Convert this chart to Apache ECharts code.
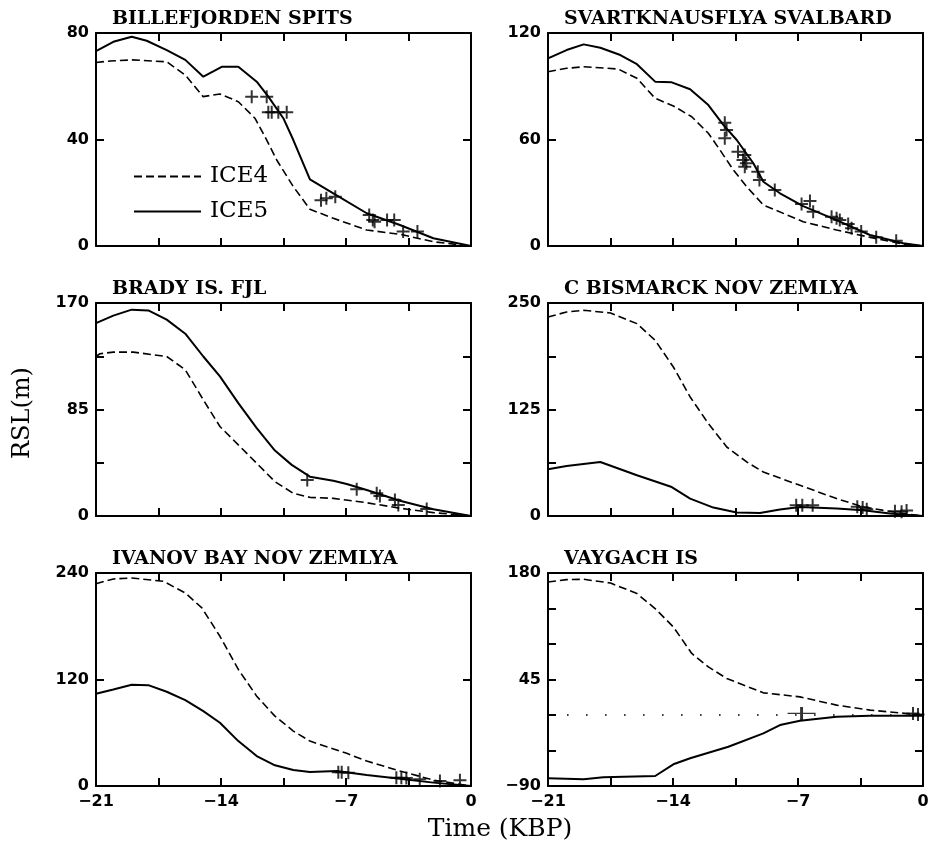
<!DOCTYPE html>
<html><head><meta charset="utf-8">
<script src="https://cdn.jsdelivr.net/npm/echarts@6/dist/echarts.min.js"></script>
<style>html,body{margin:0;padding:0;background:#fff}#c{width:934px;height:845px}</style>
</head><body><div id="c"></div>
<script>
// ---------- data ----------
const panelTitles = ['BILLEFJORDEN SPITS', 'SVARTKNAUSFLYA SVALBARD', 'BRADY IS. FJL',
  'C BISMARCK NOV ZEMLYA', 'IVANOV BAY NOV ZEMLYA', 'VAYGACH IS'];
const seriesNames = ['ICE4', 'ICE5'];
const xRange = [-21, 0];
const xTickStep = 3.5;
const xTickLabels = [-21, -14, -7, 0];
const yRanges = [[0, 80], [0, 120], [0, 170], [0, 250], [0, 240], [-90, 180]];
const yTickSteps = [40, 60, 42.5, 62.5, 120, 45];
const yTickLabels = [[0, 40, 80], [0, 60, 120], [0, 85, 170], [0, 125, 250], [0, 120, 240], [-90, 45, 180]];

const billeIce4 = [[-21,68.9],[-20.2,69.5],[-19,69.9],[-17.04,69.2],[-16,64.2],[-15,56.1],[-14.06,57.1],[-13.03,54.2],[-12.1,48.0],[-11.44,39.8],[-10.88,32.3],[-9.95,22.3],[-9.02,13.8],[-7.71,10.4],[-5.84,6.0],[-3.98,4.4],[-2.11,1.6],[0,0]];
const billeIce5 = [[-21,73.2],[-20.03,76.7],[-19,78.6],[-18.16,77.1],[-17.04,73.6],[-16,69.9],[-14.99,63.6],[-13.96,67.3],[-13.03,67.3],[-12,61.7],[-11.35,56.1],[-10.51,48.0],[-9.95,39.8],[-9.02,25.0],[-7.71,19.8],[-5.84,12.3],[-3.98,7.9],[-2.11,2.9],[0,0]];
const billeObs = [[-12.28,56.1],[-11.44,56.1],[-11.35,50.2],[-11.16,50.2],[-10.79,50.2],[-10.32,50.2],[-8.4,17.2],[-8.1,17.9],[-7.6,18.5],[-5.7,11.6],[-5.5,9.8],[-5.4,9.1],[-4.7,9.8],[-4.3,9.8],[-3.8,5.4],[-3.0,5.4]];

const svartIce4 = [[-21,98.2],[-19.96,100.1],[-19,101.0],[-17.07,99.7],[-16.02,94.5],[-15,83.2],[-13.98,78.9],[-12.95,72.8],[-12.02,63.5],[-11.37,54.1],[-10.62,42.8],[-9.87,33.4],[-8.94,23.1],[-6.71,13.7],[-4.84,9.0],[-2.97,4.9],[-1.11,1.1],[0,0]];
const svartIce5 = [[-21,105.7],[-19.96,110.4],[-19,113.6],[-18.07,111.7],[-16.95,107.6],[-16.02,102.4],[-15,92.6],[-14.07,92.2],[-13.04,88.3],[-12.02,79.4],[-11.18,68.2],[-10.43,59.7],[-9.5,46.6],[-8.94,36.2],[-8.01,29.7],[-6.71,22.5],[-4.84,14.6],[-2.97,6.2],[-1.11,1.5],[0,0]];
const svartObs = [[-11.1,69.5],[-11.0,65.4],[-11.1,60.7],[-10.36,53.1],[-9.98,51.3],[-10.08,48.5],[-9.89,46.6],[-9.98,44.7],[-9.25,41.9],[-9.16,37.2],[-8.3,31.5],[-6.8,23.7],[-6.33,25.4],[-6.15,19.3],[-5.12,16.5],[-4.84,15.6],[-4.66,14.6],[-4.19,12.4],[-4.0,10.0],[-3.46,8.1],[-2.62,4.9],[-1.5,3.0]];

const bradyIce4 = [[-21,127.3],[-20.78,129.5],[-20.03,130.8],[-18.91,130.8],[-17.04,127.3],[-16,116.7],[-14.99,92.7],[-14.06,71.4],[-13.03,56.8],[-12,42.1],[-10.98,27.4],[-9.95,18.1],[-9.02,14.9],[-7.71,14.1],[-5.84,10.6],[-3.98,6.2],[-2.11,2.7],[0,0]];
const bradyIce5 = [[-21,154.0],[-20.03,159.9],[-19,164.7],[-18.07,164.1],[-17.04,156.7],[-16,145.5],[-14.99,127.3],[-14.06,111.4],[-13.03,90.1],[-12,70.1],[-10.98,52.2],[-10.04,40.8],[-9.02,31.4],[-7.71,28.2],[-6.96,25.6],[-5.84,20.8],[-3.98,12.2],[-2.11,5.4],[0,0]];
const bradyObs = [[-9.17,28.8],[-6.4,21.3],[-5.28,18.1],[-5.1,16.0],[-4.26,12.8],[-4.07,8.8],[-2.48,5.6]];

const bismarckIce4 = [[-21,233.6],[-19.96,239.4],[-19,241.4],[-17.5,238.3],[-16.02,225.8],[-15,206.2],[-13.98,174.9],[-13.04,139.7],[-12.02,108.5],[-10.99,81.0],[-9.87,63.4],[-8.94,51.6],[-6.89,36.0],[-4.84,20.4],[-3.35,10.6],[-1.11,2.8],[0,0]];
const bismarckIce5 = [[-21,54.8],[-19.96,58.7],[-18.07,63.4],[-16.02,47.8],[-14.07,34.0],[-13.04,20.4],[-11.74,9.9],[-10.43,4.0],[-9.13,3.5],[-8.01,7.5],[-6.89,10.6],[-4.84,8.7],[-3.35,6.7],[-1.85,2.8],[0,0]];
const bismarckObs = [[-7.1,12.5],[-6.76,12.5],[-6.18,12.5],[-3.68,11.0],[-3.38,10.0],[-3.15,8.0],[-1.57,5.5],[-1.2,5.0],[-0.92,6.5]];

const ivanovIce4 = [[-21,228.0],[-20.03,233.3],[-19,234.4],[-17.22,230.6],[-16,217.5],[-15.07,200.7],[-14.06,168.7],[-13.03,131.3],[-12,101.2],[-10.98,78.7],[-9.95,61.9],[-9.02,50.6],[-6.96,36.8],[-5.84,28.1],[-3.98,16.9],[-2.11,6.7],[0,0]];
const ivanovIce5 = [[-21,103.9],[-20.03,108.8],[-19,114.1],[-18.07,113.6],[-17.04,106.2],[-16,96.7],[-14.99,84.4],[-14.06,71.3],[-13.03,50.6],[-12,33.7],[-10.98,23.3],[-9.95,18.0],[-9.02,15.7],[-7.52,16.9],[-5.84,12.4],[-3.98,8.3],[-2.11,3.8],[0,0]];
const ivanovObs = [[-7.43,15.5],[-7.24,15.5],[-6.87,15.0],[-4.18,9.4],[-3.9,9.4],[-3.62,9.0],[-2.87,7.5],[-1.74,5.6],[-0.62,6.5]];

const vaygachIce4 = [[-21,168.6],[-19.96,171.6],[-19,172.0],[-17.5,167.3],[-16.02,153.9],[-15,134.9],[-13.98,111.6],[-12.95,78.0],[-12.02,61.0],[-10.99,46.3],[-8.94,28.1],[-6.89,23.0],[-4.84,12.5],[-2.97,6.2],[0,-0.1]];
const vaygachIce5 = [[-21,-80.3],[-19,-81.5],[-17.9,-79.0],[-15,-77.3],[-13.98,-62.5],[-13.04,-54.9],[-10.9,-40.3],[-8.94,-23.3],[-8.01,-12.8],[-6.89,-7.3],[-4.84,-2.3],[-2.97,-1.0],[0,-1.0]];
const vaygachObs = [[-0.56,2.0],[-0.28,0.5]];
const vaygachObsWide = [[-6.8,2.0]];
const vaygachRefLevel = 0;

// ---------- layout ----------
const panels = [
  {ice4: billeIce4, ice5: billeIce5, obs: billeObs},
  {ice4: svartIce4, ice5: svartIce5, obs: svartObs},
  {ice4: bradyIce4, ice5: bradyIce5, obs: bradyObs},
  {ice4: bismarckIce4, ice5: bismarckIce5, obs: bismarckObs},
  {ice4: ivanovIce4, ice5: ivanovIce5, obs: ivanovObs},
  {ice4: vaygachIce4, ice5: vaygachIce5, obs: vaygachObs, wide: vaygachObsWide, ref: vaygachRefLevel}
];
const gridLeft = [96, 548], gridTop = [33, 303, 573], gW = 375, gH = 213;
const tickFont = {fontFamily: 'DejaVu Sans', fontWeight: 'bold', fontSize: 16, color: '#000'};
const fmt = v => (v < 0 ? '\u2212' + Math.abs(v) : String(v));
const crossPath = 'path://M0,6H12M6,0V12';
const widePath = 'path://M0,6H28M14,0V12';
const crossStyle = {color: 'rgba(0,0,0,0)', borderColor: '#000', borderWidth: 2};

const grids = [], xAxes = [], yAxes = [], series = [], titles = [];
panels.forEach((p, i) => {
  const col = i % 2, row = Math.floor(i / 2);
  grids.push({left: gridLeft[col], top: gridTop[row], width: gW, height: gH});
  titles.push({text: panelTitles[i], left: gridLeft[col] + 16, top: gridTop[row] - 23, padding: 0,
    textStyle: {fontFamily: 'DejaVu Serif', fontWeight: 'bold', fontSize: 19, color: '#000'}});
  const axisLine = {show: true, onZero: false, lineStyle: {color: '#000', width: 2}};
  const axisTick = {show: true, inside: true, length: 8, lineStyle: {color: '#000', width: 2}};
  ['bottom', 'top'].forEach((pos, k) => {
    xAxes.push({type: 'value', gridIndex: i, position: pos, min: xRange[0], max: xRange[1], interval: xTickStep,
      axisLine, axisTick, splitLine: {show: false},
      axisLabel: {show: k === 0 && row === 2, margin: 8, showMinLabel: true, showMaxLabel: true, ...tickFont,
        formatter: v => xTickLabels.some(t => Math.abs(t - v) < 1e-6) ? fmt(Math.round(v)) : ''}});
  });
  ['left', 'right'].forEach((pos, k) => {
    yAxes.push({type: 'value', gridIndex: i, position: pos, min: yRanges[i][0], max: yRanges[i][1], interval: yTickSteps[i],
      axisLine, axisTick, splitLine: {show: false},
      axisLabel: {show: k === 0, margin: 7, showMinLabel: true, showMaxLabel: true, ...tickFont,
        formatter: v => yTickLabels[i].some(t => Math.abs(t - v) < 1e-6) ? fmt(Math.round(v)) : ''}});
  });
  const xi = 2 * i, yi = 2 * i;
  series.push({name: seriesNames[0], type: 'line', xAxisIndex: xi, yAxisIndex: yi, data: p.ice4,
    symbol: 'none', lineStyle: {color: '#000', width: 1.6, type: [8, 4]}, itemStyle: {color: '#000'}, z: 3, silent: true});
  const s5 = {name: seriesNames[1], type: 'line', xAxisIndex: xi, yAxisIndex: yi, data: p.ice5,
    symbol: 'none', lineStyle: {color: '#000', width: 2}, itemStyle: {color: '#000'}, z: 3, silent: true};
  if (p.ref !== undefined) {
    s5.markLine = {silent: true, symbol: 'none', label: {show: false},
      lineStyle: {color: '#000', width: 1.6, type: [1.6, 17.4]}, data: [{yAxis: p.ref}]};
  }
  series.push(s5);
  series.push({type: 'scatter', xAxisIndex: xi, yAxisIndex: yi, data: p.obs, symbol: crossPath, symbolSize: 13,
    itemStyle: crossStyle, z: 4, silent: true});
  if (p.wide) {
    series.push({type: 'scatter', xAxisIndex: xi, yAxisIndex: yi, data: p.wide, symbol: widePath, symbolSize: [28, 13],
      itemStyle: crossStyle, z: 4, silent: true});
  }
});

const chart = echarts.init(document.getElementById('c'), null, {renderer: 'canvas'});
chart.setOption({
  animation: false,
  backgroundColor: '#fff',
  title: titles,
  grid: grids,
  xAxis: xAxes,
  yAxis: yAxes,
  legend: {data: seriesNames, orient: 'vertical', left: 133, top: 165, padding: 0, itemWidth: 67, itemHeight: 14, itemGap: 12,
    selectedMode: false,
    itemStyle: {color: 'rgba(0,0,0,0)', borderWidth: 0, opacity: 0},
    textStyle: {fontFamily: 'DejaVu Serif', fontSize: 23, color: '#000', padding: [0, 0, 0, 4]}},
  graphic: [
    {type: 'text', x: 500, y: 829, style: {text: 'Time (KBP)', fontFamily: 'DejaVu Serif', fontSize: 25, fill: '#000', align: 'center', verticalAlign: 'middle'}},
    {type: 'text', x: 23, y: 413, rotation: Math.PI / 2, style: {text: 'RSL(m)', fontFamily: 'DejaVu Serif', fontSize: 24, fill: '#000', align: 'center', verticalAlign: 'middle'}}
  ],
  series
});
</script></body></html>
